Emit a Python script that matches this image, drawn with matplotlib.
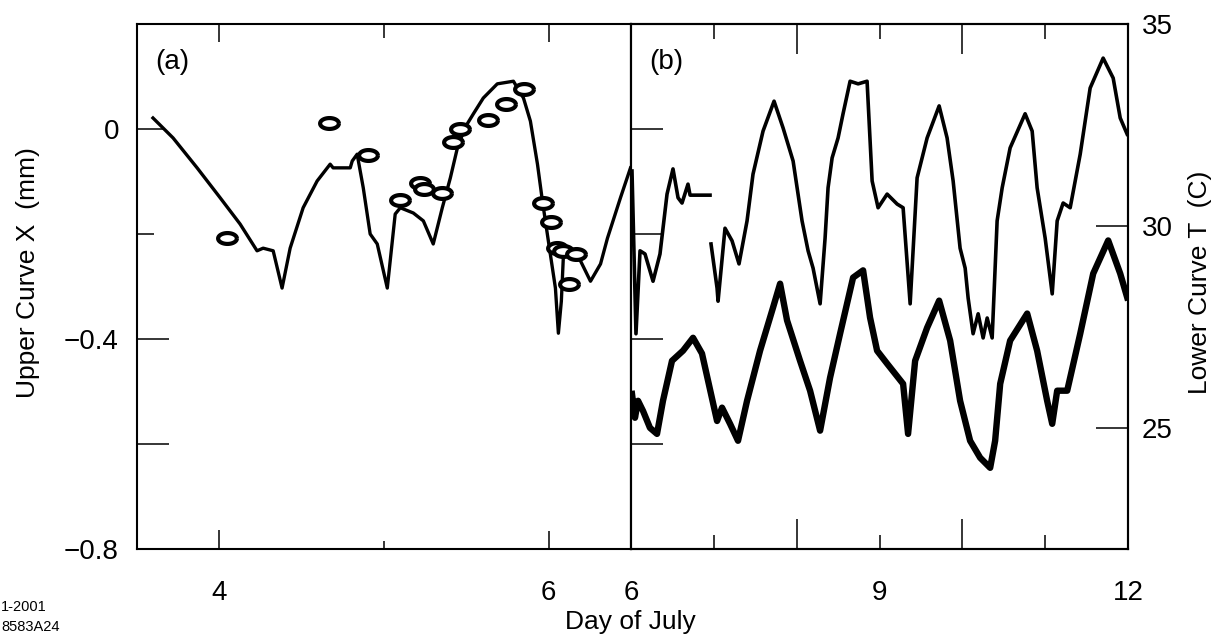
import numpy as np
import matplotlib
matplotlib.use("Agg")
import matplotlib.pyplot as plt
from matplotlib.path import Path

plt.rcParams['font.family'] = ['Liberation Sans', 'DejaVu Sans']

# panel (a): upper curve X (mm) vs day of July
day_a = [3.597, 3.719, 3.865, 4.005, 4.126, 4.229, 4.266, 4.327, 4.381, 4.430,
         4.509, 4.594, 4.673, 4.691, 4.795, 4.807, 4.837, 4.874, 4.916, 4.959,
         5.020, 5.068, 5.099, 5.178, 5.239, 5.299, 5.354, 5.403, 5.451, 5.506,
         5.543, 5.603, 5.688, 5.786, 5.847, 5.889, 5.932, 5.962, 5.998, 6.041,
         6.059, 6.077, 6.090, 6.132, 6.193, 6.254, 6.315, 6.357, 6.436, 6.497]
x_a = [0.021, -0.017, -0.074, -0.131, -0.181, -0.232, -0.227, -0.232, -0.303, -0.227,
       -0.150, -0.099, -0.067, -0.074, -0.074, -0.061, -0.048, -0.112, -0.200, -0.219,
       -0.303, -0.162, -0.150, -0.160, -0.175, -0.219, -0.150, -0.093, -0.029, 0.010,
       0.029, 0.059, 0.086, 0.091, 0.059, 0.015, -0.067, -0.137, -0.213, -0.303,
       -0.389, -0.328, -0.238, -0.238, -0.251, -0.290, -0.257, -0.208, -0.131, -0.074]

# panel (a): ring markers
day_ring = [4.047, 4.667, 4.904, 5.099, 5.220, 5.245, 5.354, 5.421, 5.464,
            5.634, 5.743, 5.853, 5.968, 6.017, 6.053, 6.090, 6.163, 6.126]
x_ring = [-0.208, 0.011, -0.050, -0.135, -0.103, -0.114, -0.122, -0.025, 0.000,
          0.017, 0.048, 0.076, -0.141, -0.177, -0.227, -0.232, -0.238, -0.295]

# panel (b): upper curve X (mm)
day_bu = [6.012, 6.060, 6.109, 6.169, 6.266, 6.350, 6.435, 6.507, 6.568, 6.616,
          6.688, 6.713, 6.954, np.nan, 6.966, 7.039, 7.051, 7.135, 7.220, 7.304,
          7.401, 7.473, 7.594, 7.727, 7.836, 7.957, 8.065, 8.138, 8.198, 8.283,
          8.343, 8.379, 8.428, 8.500, 8.560, 8.645, 8.742, 8.850, 8.911, 8.983,
          9.092, 9.213, 9.285, 9.370, 9.454, 9.575, 9.720, 9.816, 9.889, 9.973,
          10.034, 10.070, 10.130, 10.191, 10.251, 10.300, 10.360, 10.420, 10.481, 10.577,
          10.758, 10.843, 10.903, 11.000, 11.085, 11.145, 11.217, 11.302, 11.423, 11.543,
          11.700, 11.821, 11.906, 11.990]
x_bu = [-0.080, -0.390, -0.232, -0.238, -0.290, -0.238, -0.124, -0.076, -0.131, -0.141,
        -0.105, -0.126, -0.126, np.nan, -0.219, -0.303, -0.328, -0.189, -0.213, -0.257,
        -0.175, -0.086, -0.004, 0.053, 0.002, -0.061, -0.175, -0.232, -0.265, -0.333,
        -0.208, -0.112, -0.055, -0.017, 0.029, 0.091, 0.086, 0.091, -0.099, -0.150,
        -0.124, -0.143, -0.150, -0.333, -0.093, -0.017, 0.044, -0.017, -0.099, -0.227,
        -0.265, -0.322, -0.390, -0.352, -0.398, -0.360, -0.398, -0.175, -0.112, -0.036,
        0.029, -0.004, -0.112, -0.208, -0.314, -0.175, -0.141, -0.150, -0.048, 0.078,
        0.135, 0.097, 0.021, -0.010]

# panel (b): lower curve T (C)
day_bl = [6.012, 6.048, 6.085, 6.145, 6.229, 6.314, 6.386, 6.495, 6.628, 6.749,
          6.857, 6.930, 7.039, 7.099, 7.196, 7.292, 7.401, 7.558, 7.715, 7.800,
          7.884, 8.041, 8.162, 8.283, 8.403, 8.524, 8.681, 8.802, 8.886, 8.971,
          9.092, 9.285, 9.345, 9.430, 9.575, 9.720, 9.853, 9.973, 10.094, 10.215,
          10.336, 10.396, 10.457, 10.577, 10.783, 10.903, 11.024, 11.085, 11.145, 11.266,
          11.423, 11.580, 11.761, 11.906, 11.990]
t_bl = [25.84, 25.25, 25.67, 25.42, 25.00, 24.85, 25.67, 26.66, 26.91, 27.23,
        26.84, 26.17, 25.17, 25.50, 25.10, 24.68, 25.67, 26.91, 27.98, 28.57,
        27.66, 26.66, 25.92, 24.93, 26.24, 27.33, 28.72, 28.90, 27.73, 26.91,
        26.59, 26.09, 24.85, 26.66, 27.48, 28.15, 27.16, 25.67, 24.68, 24.26,
        24.01, 24.68, 26.09, 27.16, 27.83, 26.91, 25.67, 25.10, 25.92, 25.92,
        27.33, 28.82, 29.64, 28.82, 28.23]

x_ticks = [0, -0.2, -0.4, -0.6, -0.8]
x_ticklabels = ['0', '', '\u22120.4', '', '\u22120.8']

W, H = 1215, 637
fig = plt.figure(figsize=(W / 100, H / 100), dpi=100)
px = 1 / 1.389  # pixels -> points
FS = 20


def box(x0, x1, y0, y1):
    return [x0 / W, (H - y1) / H, (x1 - x0) / W, (y1 - y0) / H]


def style(ax):
    for s in ax.spines.values():
        s.set_linewidth(1.5)
    ax.tick_params(direction='in', width=1.1, labelsize=FS, color='black')


def set_lengths(ticks, lengths, which):
    for t, L in zip(ticks, lengths):
        line = t.tick1line if which == 1 else t.tick2line
        line.set_markersize(L * px)


ax1 = fig.add_axes(box(137, 631, 24, 549))
ax2 = fig.add_axes(box(631, 1128, 24, 549))
ax3 = ax2.twinx()

# ellipse ring marker
th = np.linspace(0, 2 * np.pi, 60)
ring = Path(np.column_stack([np.cos(th), 0.58 * np.sin(th)]))

ax1.plot(day_a, x_a, color='black', lw=2.4)
ax1.plot(day_ring, x_ring, ls='none', marker=ring, ms=13.5, mfc='white',
         mec='black', mew=3.0)
ax2.plot(day_bu, x_bu, color='black', lw=2.6)
ax3.plot(day_bl, t_bl, color='black', lw=4.6)

# left panel
style(ax1)
ax1.set_xlim(3.5, 6.5)
ax1.set_ylim(-0.8, 0.2)
ax1.set_xticks([4, 5, 6], ['4', '', '6'])
ax1.set_yticks(x_ticks, x_ticklabels)
ax1.tick_params(axis='x', top=True, pad=22)
ax1.tick_params(axis='y', right=False, pad=13)
set_lengths(ax1.xaxis.get_major_ticks(), [19, 8, 18], 1)
set_lengths(ax1.xaxis.get_major_ticks(), [18, 14, 18], 2)
set_lengths(ax1.yaxis.get_major_ticks(), [27, 17, 32, 32, 0], 1)
ax1.text(3.61, 0.128, '(a)', fontsize=FS, va='center', ha='left')

# right panel
style(ax2)
ax2.set_xlim(6, 12)
ax2.set_ylim(-0.8, 0.2)
ax2.set_xticks([6, 7, 8, 9, 10, 11, 12], ['6', '', '', '9', '', '', '12'])
ax2.set_yticks(x_ticks, [''] * 5)
ax2.tick_params(axis='x', top=True, pad=22)
ax2.tick_params(axis='y', right=False)
set_lengths(ax2.xaxis.get_major_ticks(), [0, 14, 30, 14, 30, 14, 0], 1)
set_lengths(ax2.xaxis.get_major_ticks(), [0, 15, 30, 15, 30, 15, 0], 2)
set_lengths(ax2.yaxis.get_major_ticks(), [32, 30, 32, 32, 0], 1)
ax2.text(6.22, 0.128, '(b)', fontsize=FS, va='center', ha='left')

style(ax3)
ax3.set_ylim(22, 35)
ax3.set_yticks([25, 30, 35])
ax3.tick_params(axis='y', pad=10)
set_lengths(ax3.yaxis.get_major_ticks(), [32, 32, 0], 2)

fig.text(28 / W, 1 - 273 / H, 'Upper Curve X  (mm)', rotation=90,
         fontsize=19, ha='center', va='center')
fig.text(1200 / W, 1 - 282 / H, 'Lower Curve T  (C)', rotation=90,
         fontsize=19, ha='center', va='center')
fig.text(630 / W, 1 - 622 / H, 'Day of July', fontsize=19,
         ha='center', va='center')
fig.text(1 / W, 1 - 607 / H, '1-2001', fontsize=10.5, ha='left', va='center')
fig.text(1 / W, 1 - 627 / H, '8583A24', fontsize=10.5, ha='left', va='center')

fig.savefig('out.png', dpi=100)
